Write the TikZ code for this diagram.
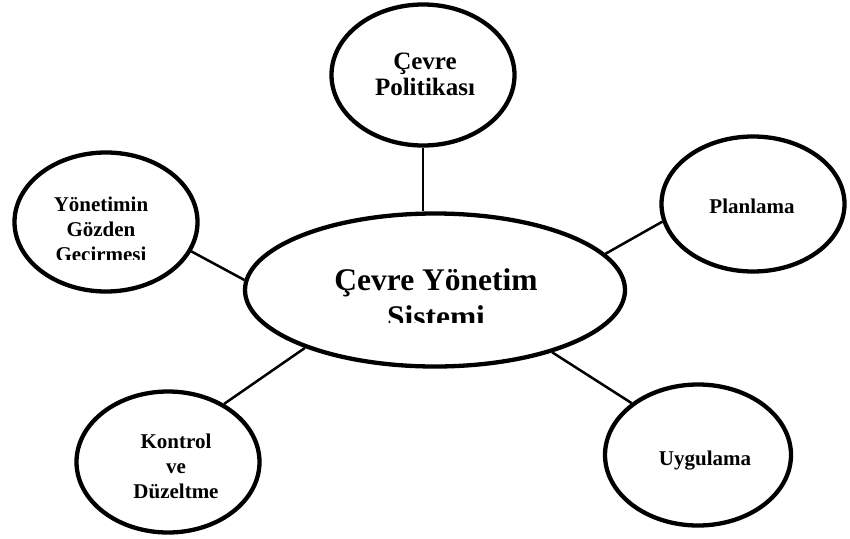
\documentclass[tikz,border=0pt]{standalone}
\usepackage{fontspec}
\setmainfont{Liberation Serif}
\usetikzlibrary{shapes.geometric}
\begin{document}
\begin{tikzpicture}[x=1pt,y=-1pt,
  bubble/.style={draw=black, line width=4.3pt, ellipse, inner sep=0pt},
  link/.style={draw=black, line width=2.5pt},
  lbl/.style={font=\bfseries\fontsize{21}{25}\selectfont, align=center, inner sep=0pt},
  toplbl/.style={font=\bfseries\fontsize{25}{26}\selectfont, align=center, inner sep=0pt},
  biglbl/.style={font=\bfseries\fontsize{31.5}{37}\selectfont, align=center, inner sep=0pt}]
\fill[white] (0,0) rectangle (850,538);
\useasboundingbox (0,0) rectangle (850,538);
% ellipses
\node[bubble, minimum width=380pt, minimum height=153pt] (cent) at (435,290) {};
\node[bubble, minimum width=183pt, minimum height=141pt] (pol) at (423,75) {};
\node[bubble, minimum width=183pt, minimum height=135pt] (plan) at (753,204) {};
\node[bubble, minimum width=183pt, minimum height=139pt] (yon) at (106,222) {};
\node[bubble, minimum width=183pt, minimum height=141pt] (kon) at (168,462) {};
\node[bubble, minimum width=186pt, minimum height=141pt] (uyg) at (698,455) {};
% connectors
\draw[link] (pol.south) -- (pol.south |- cent.north);
\draw[link] (yon.-19) -- (cent.177);
\draw[link] (plan.191) -- (cent.12);
\draw[link] (kon.46) -- (cent.204);
\draw[link] (uyg.142) -- (cent.-28);
% texts
\begin{scope}
\clip (240,200) rectangle (630,322);
\node[biglbl] (centt) at (436,298) {Çevre Yönetim\\Sistemi};
\end{scope}
\begin{scope}
\clip (10,140) rectangle (210,259);
\node[lbl] (yont) at (101,231) {Yönetimin\\Gözden\\Geçirmesi};
\end{scope}
\node[toplbl] (polt) at (425,74) {Çevre\\Politikası};
\node[lbl] (plant) at (752,206) {Planlama};
\node[lbl] (kont) at (176,466) {Kontrol\\ve\\Düzeltme};
\node[lbl] (uygt) at (705,461) {Uygulama};
\end{tikzpicture}
\end{document}
